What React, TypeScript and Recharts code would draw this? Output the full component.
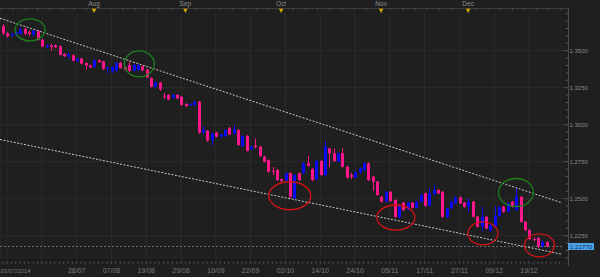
import React from 'react'
import { ComposedChart, Bar, XAxis, YAxis, CartesianGrid, ReferenceLine, ReferenceDot } from 'recharts'

// EUR/USD daily, 03/07/2014 .. 25/12/2014 (one entry per trading day)
const open = [
  1.3665, 1.3618, 1.3604, 1.3608, 1.3613, 1.3647, 1.3624, 1.3608, 1.3631, 1.3574,
  1.3525, 1.3534, 1.3537, 1.3530, 1.3478, 1.3462, 1.3469, 1.3432, 1.3446, 1.3417,
  1.3401, 1.3390, 1.3435, 1.3428, 1.3378, 1.3361, 1.3365, 1.3417, 1.3388, 1.3403,
  1.3365, 1.3370, 1.3395, 1.3372, 1.3315, 1.3257, 1.3284, 1.3196, 1.3201, 1.3182,
  1.3201, 1.3189, 1.3140, 1.3131, 1.3133, 1.3155, 1.2949, 1.2959, 1.2896, 1.2946,
  1.2919, 1.2924, 1.2976, 1.2942, 1.2964, 1.2856, 1.2924, 1.2836, 1.2858, 1.2851,
  1.2784, 1.2761, 1.2688, 1.2694, 1.2631, 1.2622, 1.2672, 1.2503, 1.2672, 1.2672,
  1.2739, 1.2699, 1.2631, 1.2755, 1.2660, 1.2840, 1.2807, 1.2750, 1.2807, 1.2716,
  1.2660, 1.2642, 1.2678, 1.2694, 1.2739, 1.2649, 1.2615, 1.2513, 1.2480, 1.2547,
  1.2491, 1.2374, 1.2473, 1.2424, 1.2473, 1.2439, 1.2480, 1.2536, 1.2453, 1.2530,
  1.2559, 1.2547, 1.2374, 1.2435, 1.2469, 1.2509, 1.2473, 1.2446, 1.2480, 1.2378,
  1.2311, 1.2378, 1.2284, 1.2311, 1.2383, 1.2446, 1.2412, 1.2480, 1.2424, 1.2513,
  1.2344, 1.2288, 1.2227, 1.2234, 1.2176, 1.2207
]
const high = [
  1.3680, 1.3625, 1.3620, 1.3630, 1.3655, 1.3655, 1.3638, 1.3642, 1.3638, 1.3580,
  1.3542, 1.3547, 1.3542, 1.3535, 1.3482, 1.3491, 1.3475, 1.3450, 1.3452, 1.3420,
  1.3405, 1.3440, 1.3442, 1.3432, 1.3392, 1.3395, 1.3422, 1.3425, 1.3392, 1.3426,
  1.3410, 1.3408, 1.3400, 1.3376, 1.3320, 1.3290, 1.3290, 1.3214, 1.3206, 1.3206,
  1.3206, 1.3194, 1.3145, 1.3144, 1.3160, 1.3160, 1.2991, 1.2964, 1.2947, 1.2951,
  1.2940, 1.2970, 1.2986, 1.2998, 1.2970, 1.2930, 1.2930, 1.2856, 1.2905, 1.2856,
  1.2790, 1.2766, 1.2714, 1.2700, 1.2636, 1.2678, 1.2678, 1.2666, 1.2678, 1.2745,
  1.2790, 1.2705, 1.2760, 1.2760, 1.2890, 1.2842, 1.2840, 1.2812, 1.2840, 1.2722,
  1.2674, 1.2684, 1.2710, 1.2745, 1.2745, 1.2655, 1.2620, 1.2518, 1.2552, 1.2552,
  1.2496, 1.2462, 1.2478, 1.2478, 1.2478, 1.2485, 1.2530, 1.2542, 1.2572, 1.2593,
  1.2565, 1.2552, 1.2440, 1.2485, 1.2515, 1.2515, 1.2478, 1.2505, 1.2485, 1.2384,
  1.2444, 1.2384, 1.2328, 1.2450, 1.2452, 1.2452, 1.2475, 1.2485, 1.2570, 1.2518,
  1.2350, 1.2293, 1.2240, 1.2240, 1.2215, 1.2212
]
const low = [
  1.3606, 1.3590, 1.3595, 1.3602, 1.3608, 1.3604, 1.3597, 1.3600, 1.3568, 1.3524,
  1.3518, 1.3500, 1.3517, 1.3468, 1.3458, 1.3446, 1.3428, 1.3425, 1.3408, 1.3372,
  1.3381, 1.3385, 1.3418, 1.3372, 1.3349, 1.3347, 1.3360, 1.3378, 1.3366, 1.3356,
  1.3360, 1.3365, 1.3362, 1.3315, 1.3252, 1.3250, 1.3228, 1.3174, 1.3165, 1.3176,
  1.3172, 1.3128, 1.3121, 1.3125, 1.3128, 1.2940, 1.2937, 1.2886, 1.2863, 1.2914,
  1.2913, 1.2918, 1.2930, 1.2930, 1.2858, 1.2850, 1.2818, 1.2830, 1.2840, 1.2782,
  1.2745, 1.2676, 1.2660, 1.2620, 1.2612, 1.2616, 1.2505, 1.2498, 1.2620, 1.2666,
  1.2718, 1.2620, 1.2625, 1.2655, 1.2655, 1.2712, 1.2750, 1.2745, 1.2710, 1.2636,
  1.2633, 1.2636, 1.2672, 1.2688, 1.2620, 1.2552, 1.2520, 1.2474, 1.2474, 1.2478,
  1.2369, 1.2368, 1.2418, 1.2418, 1.2434, 1.2434, 1.2475, 1.2448, 1.2448, 1.2524,
  1.2530, 1.2372, 1.2368, 1.2430, 1.2464, 1.2464, 1.2440, 1.2410, 1.2372, 1.2305,
  1.2282, 1.2294, 1.2275, 1.2305, 1.2377, 1.2405, 1.2406, 1.2440, 1.2418, 1.2338,
  1.2282, 1.2222, 1.2212, 1.2165, 1.2170, 1.2172
]
const close = [
  1.3618, 1.3597, 1.3615, 1.3624, 1.3647, 1.3615, 1.3613, 1.3635, 1.3574, 1.3530,
  1.3537, 1.3525, 1.3523, 1.3473, 1.3462, 1.3473, 1.3432, 1.3446, 1.3412, 1.3401,
  1.3388, 1.3435, 1.3424, 1.3378, 1.3388, 1.3390, 1.3417, 1.3383, 1.3372, 1.3363,
  1.3405, 1.3403, 1.3368, 1.3320, 1.3257, 1.3284, 1.3239, 1.3189, 1.3171, 1.3201,
  1.3178, 1.3133, 1.3126, 1.3140, 1.3155, 1.2946, 1.2964, 1.2892, 1.2942, 1.2919,
  1.2935, 1.2964, 1.2935, 1.2969, 1.2863, 1.2924, 1.2824, 1.2851, 1.2848, 1.2788,
  1.2750, 1.2682, 1.2682, 1.2626, 1.2620, 1.2672, 1.2513, 1.2660, 1.2626, 1.2739,
  1.2723, 1.2626, 1.2755, 1.2660, 1.2851, 1.2807, 1.2755, 1.2807, 1.2716, 1.2642,
  1.2647, 1.2678, 1.2705, 1.2739, 1.2626, 1.2615, 1.2525, 1.2480, 1.2547, 1.2484,
  1.2378, 1.2457, 1.2424, 1.2473, 1.2439, 1.2480, 1.2525, 1.2453, 1.2536, 1.2559,
  1.2536, 1.2378, 1.2435, 1.2480, 1.2509, 1.2469, 1.2446, 1.2480, 1.2378, 1.2311,
  1.2378, 1.2300, 1.2322, 1.2383, 1.2444, 1.2412, 1.2469, 1.2446, 1.2513, 1.2344,
  1.2288, 1.2227, 1.2222, 1.2176, 1.2209, 1.2177
]

const priceTicks = [1.225, 1.25, 1.275, 1.3, 1.325, 1.35]
const priceLabels = ['1.2250', '1.2500', '1.2750', '1.3000', '1.3250', '1.3500']
const minorPriceTicks = [
  1.21, 1.215, 1.22, 1.225, 1.23, 1.235, 1.24, 1.245, 1.25, 1.255, 1.26, 1.265,
  1.27, 1.275, 1.28, 1.285, 1.29, 1.295, 1.3, 1.305, 1.31, 1.315, 1.32, 1.325,
  1.33, 1.335, 1.34, 1.345, 1.35, 1.355, 1.36, 1.365, 1.37, 1.375
]

const dateTickIdx = [0, 17, 25, 33, 41, 49, 57, 65, 73, 81, 89, 97, 105, 113, 121]
const dateLabels = ['03/07/2014', '28/07', '07/08', '19/08', '29/08', '10/09', '22/09', '02/10', '14/10', '24/10', '05/11', '17/11', '27/11', '09/12', '19/12']
const gridIdx = [1, 9, 17, 25, 33, 41, 49, 57, 65, 73, 81, 89, 97, 105, 113, 121]
const monthIdx = [21, 42, 64, 87, 107]
const monthLabels = ['Aug', 'Sep', 'Oct', 'Nov', 'Dec']

const lastPrice = 1.2177
const lastPriceLabel = '1.21770'

const upperTrend = [{ x: -0.62, y: 1.3719 }, { x: 128.58, y: 1.2472 }]
const lowerTrend = [{ x: -0.62, y: 1.2900 }, { x: 128.58, y: 1.2125 }]

// marked zones: candle index, price, colour
const zoneIdx = [6.3, 31.4, 66.0, 90.4, 110.4, 118.0, 123.4]
const zonePrice = [1.3641, 1.3411, 1.2520, 1.2373, 1.2266, 1.2542, 1.2185]
const zoneKind = ['top', 'top', 'bottom', 'bottom', 'bottom', 'top', 'bottom']
const zoneRx = [15, 15, 21, 19, 15, 17.5, 15]
const zoneRy = [11, 13, 14, 12.5, 11.5, 14, 11.5]

const data = open.map((o, i) => ({ i, open: o, high: high[i], low: low[i], close: close[i] }))

const X_DOMAIN: [number, number] = [-0.62, 128.58]
const Y_DOMAIN: [number, number] = [1.20926, 1.37547]

const PINK = '#ff168a'
const BLUE = '#0a0af5'
const FONT = '"Liberation Sans", Arial, sans-serif'

const bottomTicks = Array.from({ length: 129 }, (_, k) => k)
const topTicks = Array.from({ length: 47 }, (_, k) => 64 + (k - 23) * 2.8)
  .filter(v => v > X_DOMAIN[0] && v < X_DOMAIN[1] && !monthIdx.some(m => Math.abs(m - v) < 1.2))
  .concat(monthIdx)
  .sort((a, b) => a - b)

const Candle = (props: any) => {
  const { x, y, width, height, payload } = props
  if (x == null || y == null) return null
  const top = Math.min(y, y + height)
  const h = Math.abs(height)
  const span = payload.high - payload.low || 1e-6
  const toY = (v: number) => top + ((payload.high - v) / span) * h
  const color = payload.close >= payload.open ? BLUE : PINK
  const bTop = toY(Math.max(payload.open, payload.close))
  const bBot = toY(Math.min(payload.open, payload.close))
  const cx = Math.round(x + width / 2) + 0.5
  return (
    <g>
      <line x1={cx} x2={cx} y1={top} y2={top + h} stroke={color} strokeWidth={1} />
      <rect x={cx - 1.5} y={bTop} width={3} height={Math.max(1, bBot - bTop)} fill={color} />
    </g>
  )
}

const PriceTick = (props: any) => {
  const { x, y, payload } = props
  const k = priceTicks.findIndex(t => Math.abs(t - payload.value) < 1e-6)
  return (
    <g>
      <line x1={x + (k >= 0 ? 1.5 : 3.5)} x2={x + 6} y1={y} y2={y} stroke='#555' />
      {k >= 0 && (
        <text x={x + 7.5} y={y + 2} fontSize={6} fill='#8a8a8a' fontFamily={FONT}>{priceLabels[k]}</text>
      )}
    </g>
  )
}

const DateTick = (props: any) => {
  const { x, y, payload } = props
  const k = dateTickIdx.indexOf(payload.value)
  const isGrid = gridIdx.includes(payload.value)
  return (
    <g>
      <line x1={x} x2={x} y1={y + (isGrid ? 1.5 : 2.5)} y2={y + 5} stroke='#4a4a4a' />
      {k >= 0 && (
        <text
          x={k === 0 ? x - 2.2 : x} y={y + 14} textAnchor={k === 0 ? 'start' : 'middle'}
          fontSize={k === 0 ? 6 : 7} fill='#7a7a7a' fontFamily={FONT}
        >
          {dateLabels[k]}
        </text>
      )}
    </g>
  )
}

const MonthTick = (props: any) => {
  const { x, y, payload } = props
  const k = monthIdx.indexOf(payload.value)
  if (k < 0) {
    return <line x1={x} x2={x} y1={y - 4.7} y2={y - 2.5} stroke='#4a4a4a' />
  }
  return (
    <g>
      <text x={x} y={y - 7} textAnchor='middle' fontSize={6.5} fill='#8a8a8a' fontFamily={FONT}>{monthLabels[k]}</text>
      <polygon points={`${x - 2.3},${y - 4.3} ${x + 2.3},${y - 4.3} ${x},${y}`} fill='#d9a400' />
    </g>
  )
}

const PriceTag = (props: any) => {
  const vb = props.viewBox
  if (!vb) return null
  const x0 = vb.x + vb.width + 6
  return (
    <g>
      <rect x={x0} y={vb.y - 3.5} width={26} height={7} fill='#4da3e6' />
      <text x={x0 + 13} y={vb.y + 2.2} textAnchor='middle' fontSize={6.2} fill='#0b2d63' fontFamily={FONT}>{lastPriceLabel}</text>
    </g>
  )
}

export default function App () {
  return (
    <div style={{ position: 'absolute', left: 0, top: 0, width: 600, height: 277, background: '#1f1f1f', overflow: 'hidden' }}>
      <svg width={600} height={277} style={{ position: 'absolute', left: 0, top: 0 }}>
        <line x1={0} x2={568} y1={8.5} y2={8.5} stroke='#3c3c3c' />
        <line x1={568.5} x2={568.5} y1={8} y2={266} stroke='#4a4a4a' />
        <line x1={0} x2={563} y1={13} y2={13} stroke='#121212' strokeWidth={2} />
        <line x1={562.5} x2={562.5} y1={13} y2={260} stroke='#121212' strokeWidth={1.5} />
        <line x1={0} x2={563} y1={259.5} y2={259.5} stroke='#080808' strokeWidth={1.5} />
      </svg>
      <div style={{ position: 'absolute', left: 0, top: 0 }}>
        <ComposedChart width={600} height={277} data={data} margin={{ top: 0, right: 0, bottom: 0, left: 0 }}>
          <XAxis xAxisId='g' dataKey='i' type='number' domain={X_DOMAIN} allowDataOverflow ticks={gridIdx} hide />
          <YAxis yAxisId='g' type='number' domain={Y_DOMAIN} allowDataOverflow ticks={priceTicks} hide />
          <CartesianGrid xAxisId='g' yAxisId='g' stroke='#2c2c2c' />
          <XAxis
            xAxisId='t' orientation='top' dataKey='i' type='number' domain={X_DOMAIN} allowDataOverflow
            ticks={topTicks} interval={0} height={13} axisLine={false} tickLine={false} tickSize={0} tickMargin={0}
            tick={<MonthTick />}
          />
          <XAxis
            xAxisId='b' dataKey='i' type='number' domain={X_DOMAIN} allowDataOverflow
            ticks={bottomTicks} interval={0} height={18} axisLine={false} tickLine={false} tickSize={0} tickMargin={0}
            tick={<DateTick />}
          />
          <YAxis
            yAxisId='p' orientation='right' type='number' domain={Y_DOMAIN} allowDataOverflow
            ticks={minorPriceTicks} interval={0} width={38} axisLine={false} tickLine={false} tickSize={0} tickMargin={0}
            tick={<PriceTick />}
          />
          <ReferenceLine xAxisId='b' yAxisId='p' y={lastPrice} stroke='#6a6a6a' strokeDasharray='2 2' label={<PriceTag />} />
          <Bar
            xAxisId='b' yAxisId='p' dataKey={(d: any) => [d.low, d.high]} barSize={3}
            shape={<Candle />} isAnimationActive={false}
          />
          <ReferenceLine xAxisId='b' yAxisId='p' segment={upperTrend} stroke='#c8c8c8' strokeDasharray='2 1.5' ifOverflow='visible' />
          <ReferenceLine xAxisId='b' yAxisId='p' segment={lowerTrend} stroke='#c8c8c8' strokeDasharray='2 1.5' ifOverflow='visible' />
          {zoneIdx.map((zi, k) => (
            <ReferenceDot
              key={k} xAxisId='b' yAxisId='p' x={zi} y={zonePrice[k]} r={1} ifOverflow='visible'
              shape={(p: any) => (
                <ellipse
                  cx={p.cx} cy={p.cy} rx={zoneRx[k]} ry={zoneRy[k]} fill='none'
                  stroke={zoneKind[k] === 'top' ? '#1c801c' : '#d01212'} strokeWidth={1.3}
                />
              )}
            />
          ))}
        </ComposedChart>
      </div>
    </div>
  )
}
